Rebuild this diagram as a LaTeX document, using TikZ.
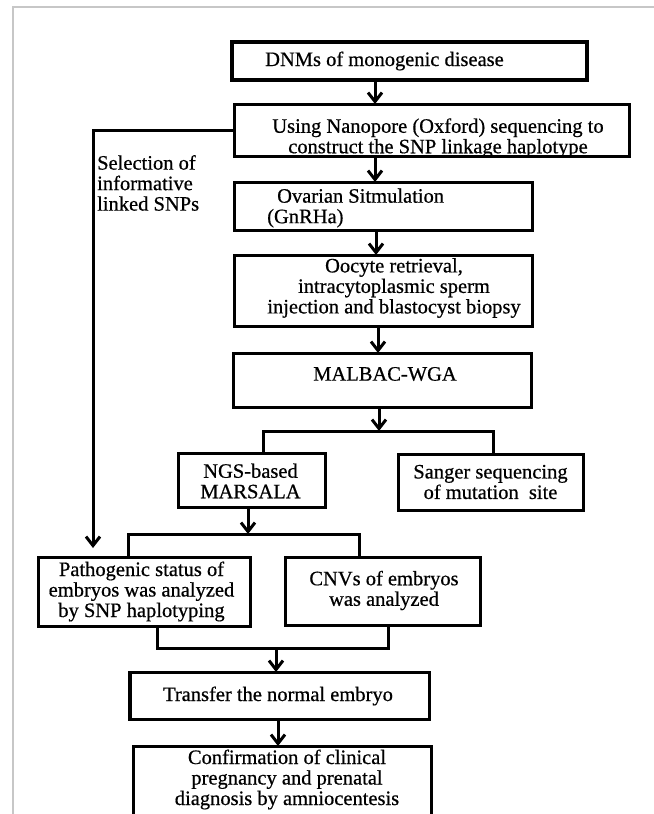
\documentclass[tikz,border=0pt]{standalone}
\usepackage{fontspec}
\setmainfont{Liberation Serif}[FakeBold=0.6]
\usetikzlibrary{arrows.meta}
\begin{document}
\begin{tikzpicture}[x=1bp,y=-1bp,
  box/.style={draw=black, line width=3bp, rectangle, inner sep=0pt, outer sep=0pt, fill=white},
  txt/.style={inner sep=0pt, font=\fontsize{20.5bp}{20.5bp}\selectfont, align=center},
  conn/.style={draw=black, line width=3bp},
  arr/.style={conn, -{Straight Barb[length=9bp,width=14bp]}}]
\useasboundingbox (0,0) rectangle (654,814);
\clip (0,0) rectangle (654,814);
\fill[white] (0,0) rectangle (654,814);
% frame
\draw[black!22, line width=1.5bp] (13,820) -- (13,7) -- (660,7);
% boxes
\node[box, line width=3.8bp, minimum width=355bp, minimum height=38bp] (dnm) at (409.5,61) {};
\node[box, minimum width=395bp, minimum height=52bp] (nano) at (431.5,130) {};
\node[box, minimum width=298bp, minimum height=48bp] (ovar) at (383,206) {};
\node[box, minimum width=298bp, minimum height=71bp] (oocyte) at (383,290.5) {};
\node[box, minimum width=298bp, minimum height=54bp] (malbac) at (382,380) {};
\node[box, minimum width=147bp, minimum height=54bp] (ngs) at (251.5,480) {};
\node[box, minimum width=185bp, minimum height=56bp] (sanger) at (490.5,482) {};
\node[box, minimum width=211bp, minimum height=69bp] (path) at (144.5,591.5) {};
\node[box, minimum width=195bp, minimum height=68bp] (cnv) at (382.5,591) {};
\node[box, minimum width=299bp, minimum height=47bp] (transfer) at (279.5,695.5) {};
\node[box, minimum width=298bp, minimum height=88bp] (confirm) at (282,790) {};
% texts
\node[txt, anchor=west] (dnm-t) at (265,61) {DNMs of monogenic disease};
\node[txt] (nano-t) at (438,138) {Using Nanopore (Oxford) sequencing to\\construct the SNP linkage haplotype};
\node[txt, anchor=west, align=left] (ovar-t) at (267,208) {\hspace*{10bp}Ovarian Sitmulation\\(GnRHa)};
\node[txt] (oocyte-t) at (394,288) {Oocyte retrieval,\\intracytoplasmic sperm\\injection and blastocyst biopsy};
\node[txt] (malbac-t) at (385,374) {MALBAC-WGA};
\node[txt] (ngs-t) at (250.5,481) {NGS-based\\MARSALA};
\node[txt] (sanger-t) at (490.5,482) {Sanger sequencing\\of mutation\ \ site};
\node[txt] (path-t) at (141.5,591.5) {Pathogenic status of\\embryos was analyzed\\by SNP haplotyping};
\node[txt] (cnv-t) at (384,590.5) {CNVs of embryos\\was analyzed};
\node[txt] (transfer-t) at (278,696) {Transfer the normal embryo};
\node[txt] (confirm-t) at (287,779.5) {Confirmation of clinical\\pregnancy and prenatal\\diagnosis by amniocentesis};
\node[txt, anchor=west, align=left] (sel-t) at (97,183) {Selection of\\informative\\linked SNPs};
% connectors
\draw[arr] (dnm.south -| 375,0) -- (nano.north -| 375,0);
\draw[arr] (nano.south -| 375,0) -- (ovar.north -| 375,0);
\draw[arr] (ovar.south -| 376,0) -- (oocyte.north -| 376,0);
\draw[arr] (oocyte.south -| 378,0) -- (malbac.north -| 378,0);
\coordinate (b1) at (379,431);
\draw[arr] (malbac.south -| b1) -- (b1);
\draw[conn] (ngs.north -| 263,0) |- (b1) -| (sanger.north -| 493,0);
\coordinate (b2) at (248,534);
\draw[arr] (ngs.south -| b2) -- (b2);
\draw[conn] (path.north -| 128,0) |- (b2) -| (cnv.north -| 359,0);
\coordinate (b3) at (276,648);
\draw[conn] (path.south -| 157,0) |- (b3) -| (cnv.south -| 388,0);
\draw[arr] (b3) -- (transfer.north -| b3);
\draw[arr] (transfer.south -| 278,0) -- (confirm.north -| 278,0);
\coordinate (sel) at (93,130);
\draw[arr, shorten >=9bp] (nano.west) -- (sel) -- (sel |- path.north);
\end{tikzpicture}
\end{document}
